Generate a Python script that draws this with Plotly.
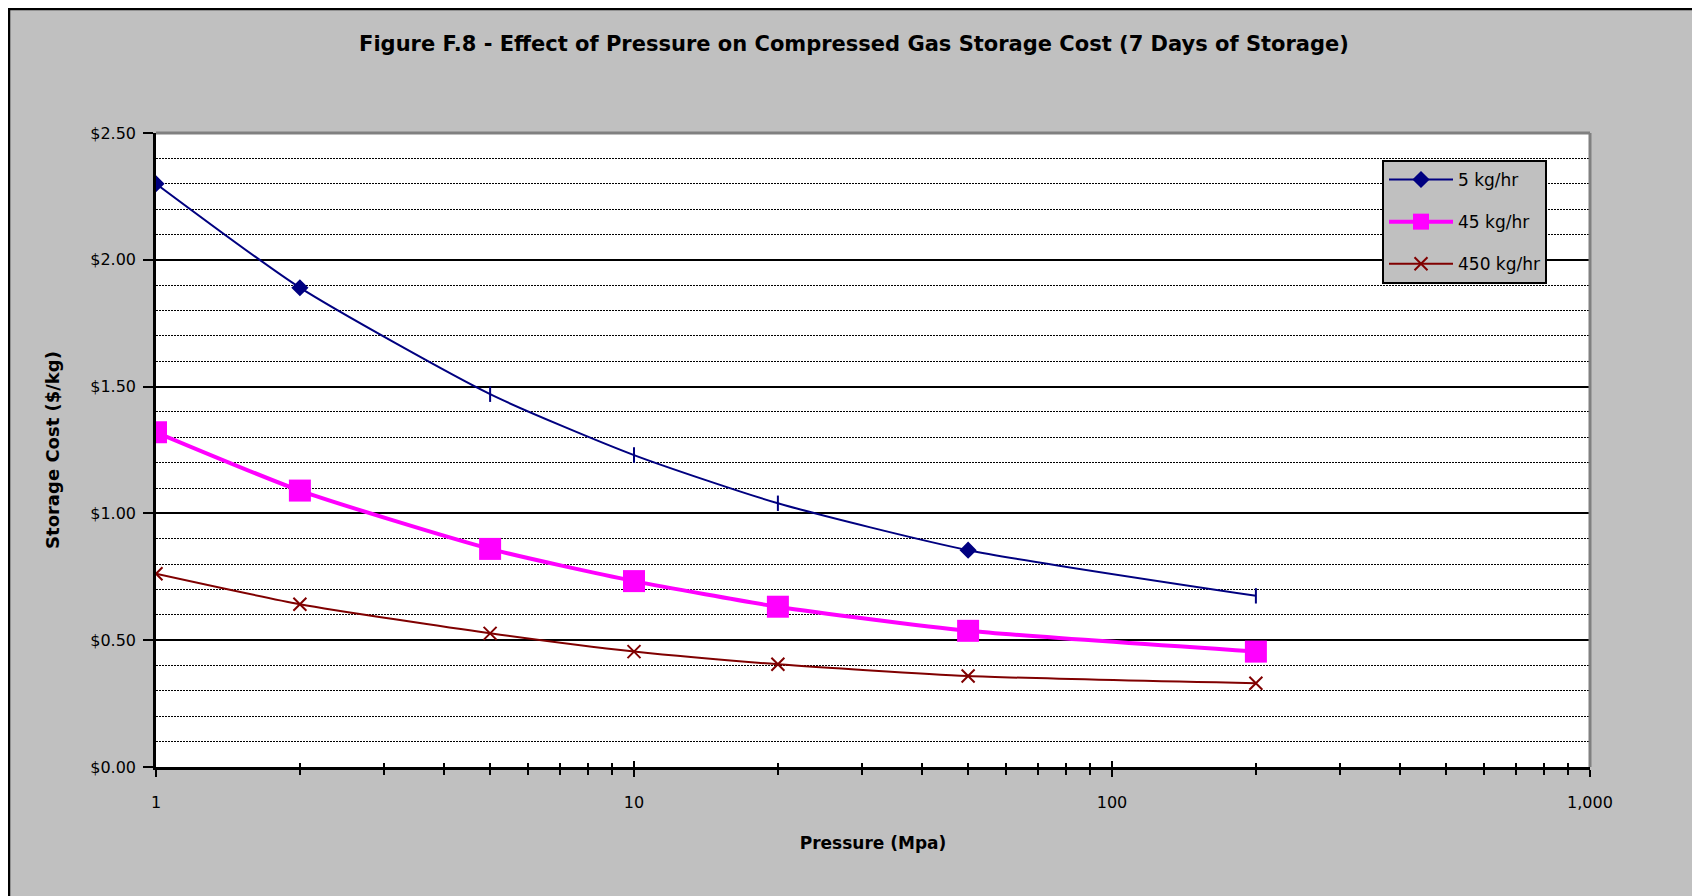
import plotly.graph_objects as go

# Pression (MPa) et coût de stockage ($/kg)
pressure = [1, 2, 5, 10, 20, 50, 200]
cost_5 = [2.30, 1.89, 1.47, 1.23, 1.04, 0.855, 0.675]
cost_45 = [1.32, 1.09, 0.86, 0.733, 0.632, 0.537, 0.455]
cost_450 = [0.762, 0.642, 0.527, 0.455, 0.405, 0.359, 0.330]

x_tickvals = [1, 10, 100, 1000]
x_ticktext = ["1", "10", "100", "1,000"]
x_minor = [m * 10 ** d for d in range(3) for m in range(2, 10)]

FONT = "DejaVu Sans"
# la page HTML ajoute une marge de 8 px autour de la figure
OFF = 8
W, H = 1700 - OFF, 896 - OFF
L, R, T, B = 156 - OFF, 110, 133 - OFF, 129
PW, PH = W - L - R, H - T - B


def fx(px):
	"""position x de la page -> coordonnée paper"""
	return (px - OFF - L) / PW


def fy(py):
	"""position y de la page -> coordonnée paper"""
	return (H - B - (py - OFF)) / PH


fig = go.Figure()

# le rendu Excel montre des losanges et des petits traits verticaux sur la même série
blue_symbols = ["diamond", "diamond", "line-ns", "line-ns", "line-ns", "diamond", "line-ns"]

fig.add_trace(go.Scatter(
	x=pressure, y=cost_5, name="5 kg/hr", mode="lines+markers",
	legendgroup="a",
	line=dict(color="#000080", width=2, shape="spline", smoothing=0.6),
	marker=dict(symbol=blue_symbols, size=11, color="#000080",
				line=dict(color="#000080", width=2))
))
fig.add_trace(go.Scatter(
	x=pressure, y=cost_45, name="45 kg/hr", mode="lines+markers",
	legendgroup="b",
	line=dict(color="#FF00FF", width=4, shape="spline", smoothing=0.6),
	marker=dict(symbol="square", size=22, color="#FF00FF", line=dict(width=0))
))
fig.add_trace(go.Scatter(
	x=pressure, y=cost_450, name="450 kg/hr", mode="lines+markers",
	legendgroup="c", xaxis="x2",
	line=dict(color="#800000", width=2, shape="spline", smoothing=0.6),
	marker=dict(symbol="x-thin", size=13, color="#800000",
				line=dict(color="#800000", width=2))
))

shapes = [
	# cadre noir autour du graphique (haut et gauche)
	dict(type="line", xref="paper", yref="paper", layer="below",
		 x0=fx(OFF), x1=fx(1700), y0=fy(OFF + 1), y1=fy(OFF + 1),
		 line=dict(color="black", width=2.5)),
	dict(type="line", xref="paper", yref="paper", layer="below",
		 x0=fx(OFF + 1), x1=fx(OFF + 1), y0=fy(896), y1=fy(OFF),
		 line=dict(color="black", width=2.5)),
	# bord gris haut / droite de la zone de tracé
	dict(type="line", xref="x domain", yref="y domain", layer="above",
		 x0=0, x1=1, y0=1, y1=1, line=dict(color="#808080", width=3)),
	dict(type="line", xref="x domain", yref="y domain", layer="above",
		 x0=1, x1=1, y0=0, y1=1, line=dict(color="#808080", width=3)),
]

fig.update_layout(
	width=W, height=H,
	margin=dict(l=L, r=R, t=T, b=B),
	paper_bgcolor="#C0C0C0",
	plot_bgcolor="white",
	font=dict(family=FONT, color="black", size=16),
	title=dict(
		text="<b>Figure F.8 - Effect of Pressure on Compressed Gas Storage Cost (7 Days of Storage)</b>",
		font=dict(family=FONT, size=21, color="black"),
		x=0.5, xref="container", xanchor="center",
		y=1 - (44 - OFF) / H, yref="container", yanchor="middle"
	),
	xaxis=dict(
		type="log", range=[0, 3],
		tickmode="array", tickvals=x_tickvals, ticktext=x_ticktext,
		ticks="outside", ticklen=7, tickwidth=1.5, tickcolor="black",
		ticklabelstandoff=12,
		minor=dict(tickmode="array", tickvals=x_minor, ticks="outside",
				   ticklen=5, tickwidth=1.5, tickcolor="black", showgrid=False),
		showgrid=False, zeroline=False,
		showline=True, linecolor="black", linewidth=3,
		tickfont=dict(size=16),
		title=dict(text="<b>Pressure (Mpa)</b>", font=dict(size=17), standoff=26),
	),
	xaxis2=dict(
		type="log", range=[0, 3], overlaying="x", anchor="y", side="bottom",
		tickmode="array", tickvals=x_tickvals, showticklabels=False,
		ticks="inside", ticklen=6, tickwidth=1.5, tickcolor="black",
		minor=dict(tickmode="array", tickvals=x_minor, ticks="inside",
				   ticklen=4, tickwidth=1.5, tickcolor="black", showgrid=False),
		showgrid=False, zeroline=False, showline=False,
	),
	yaxis=dict(
		range=[0, 2.5], dtick=0.5, tickformat="$.2f",
		ticks="outside", ticklen=10, tickwidth=1.5, tickcolor="black",
		ticklabelstandoff=4,
		showgrid=True, gridcolor="black", gridwidth=1.5,
		minor=dict(dtick=0.1, showgrid=True, gridcolor="black",
				   griddash="1.5px,1.5px", gridwidth=1.2),
		zeroline=False,
		showline=True, linecolor="black", linewidth=2.5,
		tickfont=dict(size=16),
		title=dict(text="<b>Storage Cost ($/kg)</b>", font=dict(size=18), standoff=26),
	),
	legend=dict(
		x=fx(1382), y=fy(160), xanchor="left", yanchor="top",
		bgcolor="#C0C0C0", bordercolor="black", borderwidth=2,
		font=dict(size=17), itemwidth=64, tracegroupgap=17,
	),
	shapes=shapes,
	showlegend=True,
)

fig.write_html("out.html")
